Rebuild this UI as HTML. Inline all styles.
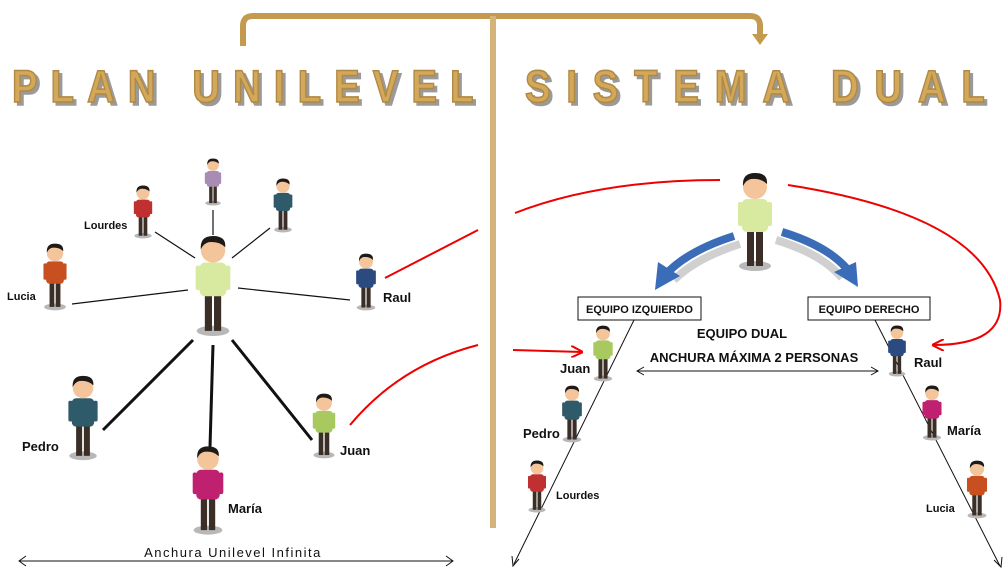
<!DOCTYPE html>
<html><head><meta charset="utf-8"><style>
html,body{margin:0;padding:0;background:#fff}
svg{display:block}
.t{font-family:"Liberation Sans",sans-serif;font-weight:bold;font-size:13px;fill:#111}
.s{font-family:"Liberation Sans",sans-serif;font-weight:bold;font-size:11px;fill:#111}
.ti{font-family:"Liberation Sans",sans-serif;font-weight:bold;font-size:45px;fill:#d4a85a;stroke:#b08a44;stroke-width:1.6}
.tsh{font-family:"Liberation Sans",sans-serif;font-weight:bold;font-size:45px;fill:#9a9a9a;stroke:#9a9a9a;stroke-width:1.6}
</style></head><body>
<svg width="1005" height="573" viewBox="0 0 1005 573" xmlns="http://www.w3.org/2000/svg">
<defs>
<symbol id="fig" viewBox="-20 0 40 100" overflow="visible">
<ellipse cx="0" cy="94" rx="16" ry="5" fill="#b8b8b8"/>
<rect x="-8" y="56" width="7" height="38" fill="#3a2e26"/>
<rect x="1" y="56" width="7" height="38" fill="#3a2e26"/>
<rect x="-17" y="30" width="5" height="24" rx="2" fill="currentColor"/>
<rect x="12" y="30" width="5" height="24" rx="2" fill="currentColor"/>
<rect x="-13" y="27" width="26" height="33" rx="5" fill="currentColor"/>
<circle cx="0" cy="15" r="12" fill="#f4c49a"/>
<path d="M-12,14 Q-13,1 0,1 Q13,1 12,12 Q6,6 -4,7 Q-9,8 -12,14Z" fill="#1e1a18"/>
</symbol>
<marker id="ar" markerWidth="12" markerHeight="12" refX="11" refY="6" orient="auto" markerUnits="userSpaceOnUse"><path d="M0,0 L12,6 L0,12" fill="none" stroke="#e00" stroke-width="2"/></marker>
</defs>

<path d="M243,46 V26 Q243,16 253,16 H750 Q760,16 760,26 V36" fill="none" stroke="#c49a4e" stroke-width="6"/>
<path d="M752,34 L768,34 L760,45Z" fill="#c49a4e"/>
<rect x="490" y="16" width="6" height="512" fill="#d4b47a"/>

<g transform="scale(0.85,1)">
<text class="tsh" x="17.6" y="105" textLength="543" lengthAdjust="spacing">PLAN  UNILEVEL</text>
<text class="ti" x="14.1" y="102" textLength="543" lengthAdjust="spacing">PLAN  UNILEVEL</text>
<text class="tsh" x="621" y="105" textLength="541" lengthAdjust="spacing">SISTEMA  DUAL</text>
<text class="ti" x="617.6" y="102" textLength="541" lengthAdjust="spacing">SISTEMA  DUAL</text>
</g>

<g stroke="#111" stroke-width="1.2">
<line x1="213" y1="235" x2="213" y2="210"/>
<line x1="195" y1="258" x2="155" y2="232"/>
<line x1="232" y1="258" x2="270" y2="228"/>
<line x1="188" y1="290" x2="72" y2="304"/>
<line x1="238" y1="288" x2="350" y2="300"/>
</g>
<g stroke="#111" stroke-width="3">
<line x1="193" y1="340" x2="103" y2="430"/>
<line x1="213" y1="345" x2="210" y2="447"/>
<line x1="232" y1="340" x2="312" y2="440"/>
</g>

<use href="#fig" x="185" y="235" width="56" height="102" style="color:#d8eaa0"/>
<use href="#fig" x="201" y="158" width="24" height="48" style="color:#a88cb4"/>
<use href="#fig" x="130" y="185" width="26" height="54" style="color:#c03030"/>
<use href="#fig" x="270" y="178" width="26" height="55" style="color:#2e5a6a"/>
<use href="#fig" x="40" y="243" width="30" height="68" style="color:#c85020"/>
<use href="#fig" x="352" y="253" width="28" height="58" style="color:#2a4a80"/>
<use href="#fig" x="64" y="375" width="38" height="86" style="color:#2e5a6a"/>
<use href="#fig" x="190" y="445" width="36" height="91" style="color:#c02070"/>
<use href="#fig" x="309" y="393" width="30" height="66" style="color:#a8c860"/>

<text class="s" x="84" y="229">Lourdes</text>
<text class="s" x="7" y="300">Lucia</text>
<text class="t" x="383" y="302">Raul</text>
<text class="t" x="22" y="451">Pedro</text>
<text class="t" x="228" y="513">María</text>
<text class="t" x="340" y="455">Juan</text>

<line x1="20" y1="561" x2="452" y2="561" stroke="#111" stroke-width="1"/>
<path d="M26,556 L19,561 L26,566 M446,556 L453,561 L446,566" fill="none" stroke="#111"/>
<text x="233" y="557" text-anchor="middle" font-family="Liberation Sans,sans-serif" font-size="13" letter-spacing="1.5" fill="#111">Anchura Unilevel Infinita</text>

<g fill="none" stroke="#e00" stroke-width="2">
<path d="M385,278 Q430,255 478,230"/>
<path d="M515,213 Q600,180 720,180"/>
<path d="M788,185 Q980,215 1000,300 Q1005,345 933,345" marker-end="url(#ar)"/>
<path d="M350,425 Q400,365 478,345"/>
<path d="M513,350 L582,352" marker-end="url(#ar)"/>
</g>

<path d="M734,236 Q690,250 668,272" fill="none" stroke="#d0d0d0" stroke-width="8" transform="translate(6,8)"/>
<path d="M734,236 Q690,250 668,272" fill="none" stroke="#3b6cb8" stroke-width="8"/>
<path d="M655,290 L658,262 L680,276Z" fill="#3b6cb8"/>
<path d="M782,232 Q828,246 848,270" fill="none" stroke="#d0d0d0" stroke-width="8" transform="translate(-6,8)"/>
<path d="M782,232 Q828,246 848,270" fill="none" stroke="#3b6cb8" stroke-width="8"/>
<path d="M858,287 L834,272 L856,262Z" fill="#3b6cb8"/>

<use href="#fig" x="728" y="172" width="54" height="100" style="color:#d8eaa0"/>

<rect x="578" y="297" width="123" height="23" fill="#fff" stroke="#111"/>
<text class="s" x="639.5" y="313" text-anchor="middle">EQUIPO IZQUIERDO</text>
<rect x="808" y="297" width="122" height="23" fill="#fff" stroke="#111"/>
<text class="s" x="869" y="313" text-anchor="middle">EQUIPO DERECHO</text>
<text class="t" x="742" y="338" text-anchor="middle" font-size="12">EQUIPO DUAL</text>
<text class="t" x="754" y="362" text-anchor="middle" font-size="12">ANCHURA MÁXIMA 2 PERSONAS</text>
<line x1="637" y1="371" x2="878" y2="371" stroke="#111"/>
<path d="M644,367 L637,371 L644,375 M871,367 L878,371 L871,375" fill="none" stroke="#111"/>

<g stroke="#111" stroke-width="1">
<line x1="634" y1="320" x2="514" y2="564"/>
<line x1="875" y1="320" x2="1000" y2="566"/>
</g>
<path d="M512,556 L513,566 L519,559 M994,560 L1001,567 L1002,557" fill="none" stroke="#111"/>

<use href="#fig" x="589" y="325" width="28" height="57" style="color:#a8c860"/>
<use href="#fig" x="559" y="385" width="26" height="58" style="color:#2e5a6a"/>
<use href="#fig" x="525" y="460" width="24" height="53" style="color:#c03030"/>
<use href="#fig" x="884" y="325" width="26" height="52" style="color:#2a4a80"/>
<use href="#fig" x="920" y="385" width="24" height="56" style="color:#c02070"/>
<use href="#fig" x="964" y="460" width="26" height="59" style="color:#c85020"/>

<text class="t" x="560" y="373">Juan</text>
<text class="t" x="523" y="438">Pedro</text>
<text class="s" x="556" y="499">Lourdes</text>
<text class="t" x="914" y="367">Raul</text>
<text class="t" x="947" y="435">María</text>
<text class="s" x="926" y="512">Lucia</text>
</svg>
</body></html>
